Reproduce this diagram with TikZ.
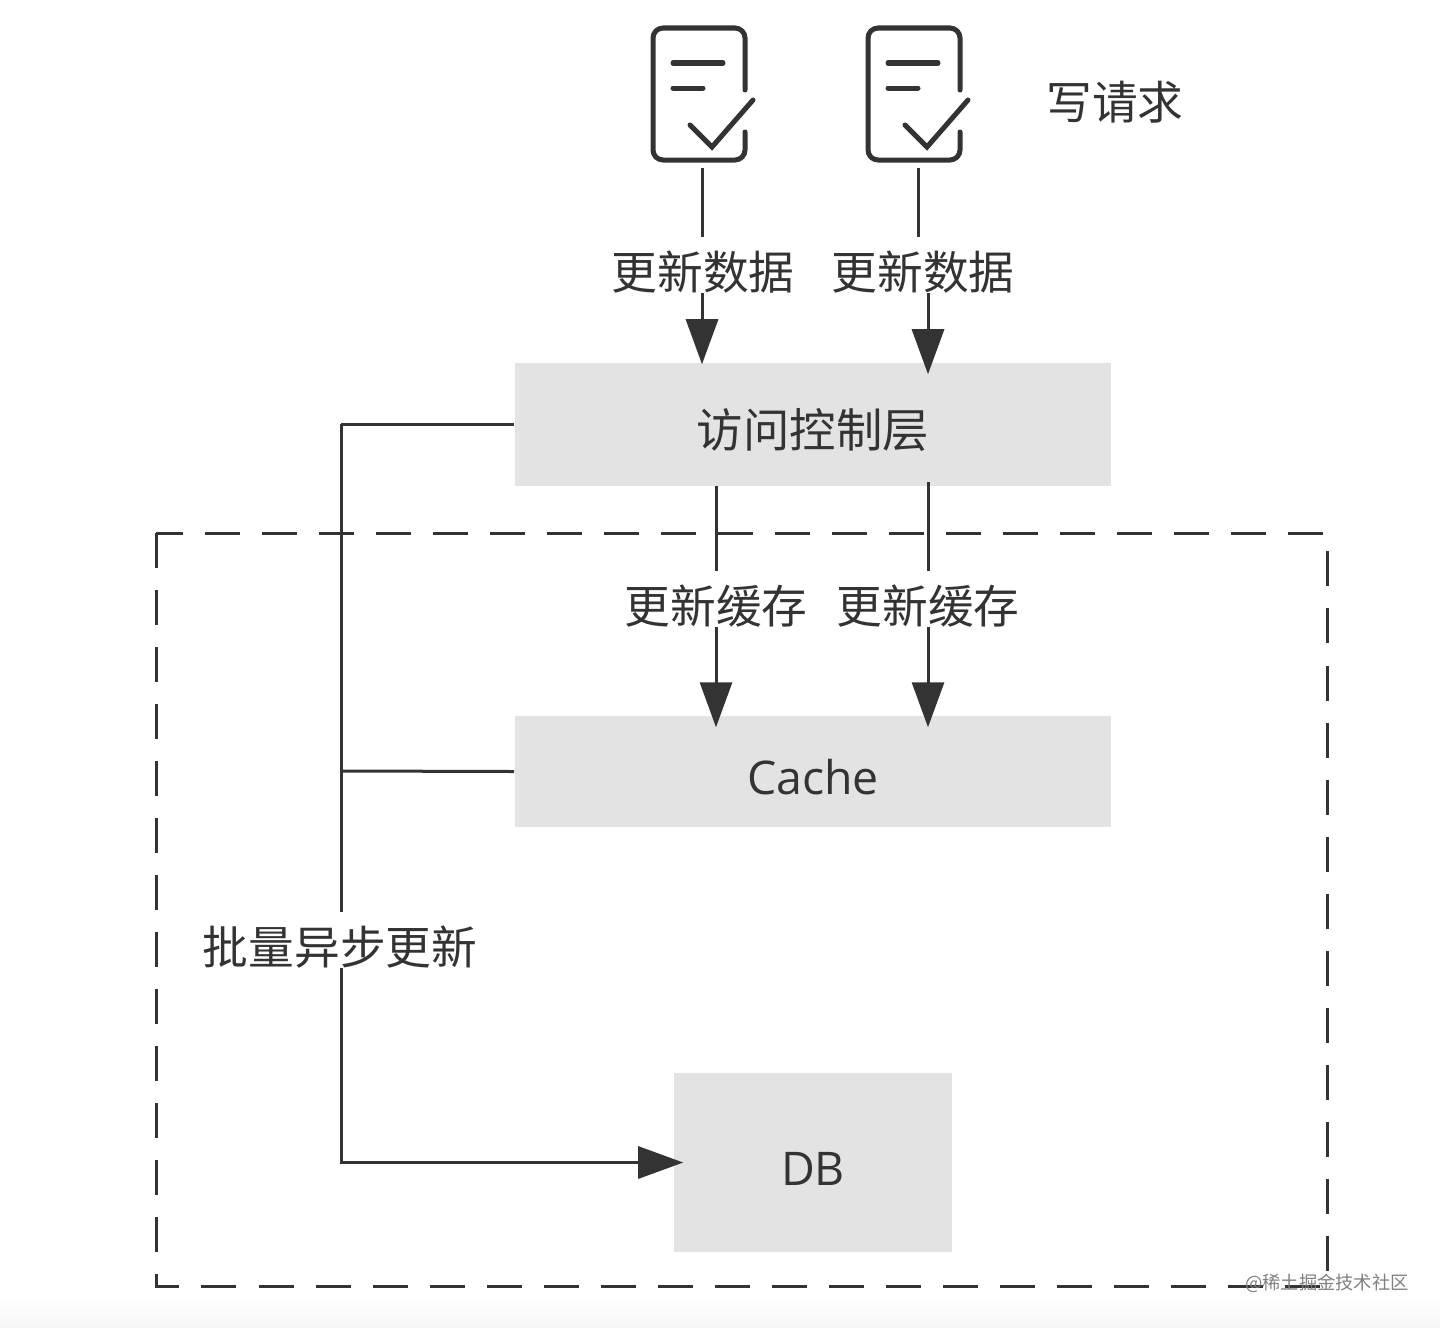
\documentclass[tikz,border=0pt]{standalone}
\usepackage{fontspec}
\setmainfont{Open Sans}
\newfontfamily\cjk{Noto Sans CJK SC}
\usetikzlibrary{arrows.meta}
\definecolor{inkgray}{HTML}{333333}
\definecolor{boxgray}{HTML}{E3E3E3}
\tikzset{
    boxnode/.style={fill=boxgray,text=inkgray,font=\fontsize{13.2}{15}\selectfont,inner sep=0pt,text height=0.45cm,text depth=0pt},
    labelnode/.style={fill=white,text=inkgray,font=\fontsize{13}{15}\selectfont\cjk,inner xsep=2pt,inner ysep=1pt,text height=0.49cm,text depth=0pt},
    line/.style={draw=inkgray,line width=0.03cm},
    arrowline/.style={line,-{Triangle[length=0.45cm,width=0.32cm]}},
    docicon/.pic={
        \draw[line,line width=0.05cm,line cap=round,rounded corners=0.1cm] (92,62) -- (92,0) -- (0,0) -- (0,132) -- (92,132) -- (92,104);
        \draw[line,line width=0.05cm,line cap=round] (20,35) -- (70,35);
        \draw[line,line width=0.05cm,line cap=round] (20,60) -- (50,60);
        \draw[line,line width=0.05cm,line cap=round] (37,97) -- (59,119) -- (100,72);
    }
}
\begin{document}
\begin{tikzpicture}[x=0.01cm,y=-0.01cm]
    \useasboundingbox (0,0) rectangle (1440,1327);
    \shade[top color=white,bottom color=black!3] (0,1295) rectangle (1440,1327);
    \draw[line,dash pattern=on 0.35cm off 0.22cm] (156,533) rectangle (1327,1286);
    \pic at (653,28) {docicon};
    \pic at (868,28) {docicon};
    \node[text=inkgray,font=\fontsize{13}{15}\selectfont\cjk,inner sep=0pt] (writereq) at (1115,102) {写请求};
    \node[boxnode,minimum width=5.96cm,minimum height=1.23cm] (access) at (813,424.5) {\cjk 访问控制层};
    \node[boxnode,minimum width=5.96cm,minimum height=1.11cm] (cache) at (813,771.5) {Cache};
    \node[boxnode,minimum width=2.78cm,minimum height=1.79cm] (db) at (813,1162.5) {DB};
    \coordinate (reqa) at (702,168);
    \coordinate (reqb) at (918,168);
    \coordinate (reqbend) at (928,272);
    \coordinate (cachea) at (716,486);
    \coordinate (cacheb) at (928,482);
    \coordinate (trunktop) at (341,424);
    \coordinate (trunkmid) at (341,771);
    \draw[arrowline,shorten >=-0.02cm] (reqa) -- (reqa |- access.north);
    \draw[arrowline,shorten >=-0.12cm] (reqb) -- (reqb |- reqbend) -- (reqbend) -- (reqbend |- access.north);
    \draw[arrowline,shorten >=-0.12cm] (cachea) -- (cachea |- cache.north);
    \draw[arrowline,shorten >=-0.12cm] (cacheb) -- (cacheb |- cache.north);
    \draw[line] (access.west |- trunktop) -- (trunktop);
    \draw[line] (cache.west) -- (trunkmid);
    \draw[arrowline,shorten >=-0.1cm] (trunktop) |- (db.west);
    \node[labelnode] (updatea) at (703,265) {更新数据};
    \node[labelnode] (updateb) at (923,265) {更新数据};
    \node[labelnode] (writea) at (716,599) {更新缓存};
    \node[labelnode] (writeb) at (928,599) {更新缓存};
    \node[labelnode] (batch) at (340,940) {批量异步更新};
    \node[text=gray,font=\fontsize{5.2}{6}\selectfont\cjk,inner sep=0pt] (mark) at (1327,1283) {@稀土掘金技术社区};
\end{tikzpicture}
\end{document}
